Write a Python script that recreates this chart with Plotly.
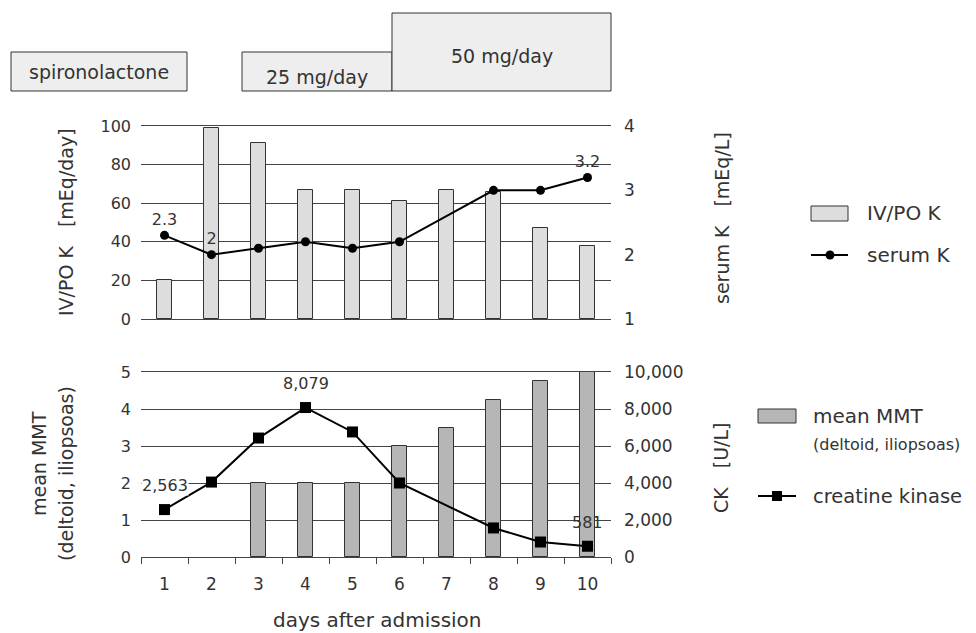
import plotly.graph_objects as go

# ---------------- data ----------------
days = ["1", "2", "3", "4", "5", "6", "7", "8", "9", "10"]
ivpo_k = [20, 99, 91, 67, 67, 61, 67, 66, 47, 38]              # mEq/day
serum_k = [2.3, 2.0, 2.1, 2.2, 2.1, 2.2, None, 3.0, 3.0, 3.2]  # mEq/L
serum_k_labels = ["2.3", "2", "", "", "", "", "", "", "", "3.2"]
mean_mmt = [None, None, 2, 2, 2, 3, 3.5, 4.25, 4.75, 5]
ck = [2563, 4050, 6430, 8079, 6760, 4000, None, 1570, 810, 581]  # U/L
ck_labels = ["2,563", "", "", "8,079", "", "", "", "", "", "581"]
ck_label_bg = ["white", None, None, None, None, None, None, None, None, None]

# page has an 8px body margin: figure starts at (8, 8) and runs to the window edge
OFF = 8
W, H = 976 - OFF, 633 - OFF
FONT = "DejaVu Sans, sans-serif"
DARK = "#333333"
GRID = "#444444"


def px(x):
    return (x - OFF) / W


def py(y):
    return 1 - (y - OFF) / H


def f(size):
    return dict(family=FONT, size=size, color=DARK)


fig = go.Figure()

fig.add_trace(go.Bar(x=days, y=ivpo_k, width=0.34, name="IV/PO K",
                     marker=dict(color="#dcdddc", line=dict(color="#333333", width=1)),
                     xaxis="x", yaxis="y", showlegend=False))
fig.add_trace(go.Scatter(x=days, y=serum_k, name="serum K", mode="lines+markers+text",
                         text=serum_k_labels, textposition="top center",
                         textfont=f(16),
                         connectgaps=True,
                         line=dict(color="black", width=2),
                         marker=dict(symbol="circle", size=9, color="black"),
                         xaxis="x", yaxis="y2", showlegend=False, cliponaxis=False))
fig.add_trace(go.Bar(x=days, y=mean_mmt, width=0.34, name="mean MMT",
                     marker=dict(color="#b5b6b5", line=dict(color="#333333", width=1)),
                     xaxis="x2", yaxis="y3", showlegend=False))
fig.add_trace(go.Scatter(x=days, y=ck, name="creatine kinase", mode="lines+markers",
                         connectgaps=True,
                         line=dict(color="black", width=2),
                         marker=dict(symbol="square", size=11, color="black"),
                         xaxis="x2", yaxis="y4", showlegend=False, cliponaxis=False))

annotations = []
for i, (v, lab, bg) in enumerate(zip(ck, ck_labels, ck_label_bg)):
    if lab:
        annotations.append(dict(x=i, y=v, xref="x2", yref="y4", text=lab, showarrow=False,
                                yshift=24, bgcolor=bg, borderpad=0, font=f(16)))

xdom = [px(141), px(611)]
top_dom = [py(319), py(126)]
bot_dom = [py(557), py(372)]

common_y = dict(showgrid=True, gridcolor=GRID, gridwidth=1, zeroline=False,
                showline=False, ticks="", automargin=False)

fig.update_layout(
    width=W, height=H,
    margin=dict(l=0, r=0, t=0, b=0, autoexpand=False),
    paper_bgcolor="white", plot_bgcolor="white",
    font=dict(family=FONT, color=DARK),
    bargap=0,
    xaxis=dict(domain=xdom, anchor="y", type="category", categoryorder="array",
               categoryarray=days, range=[-0.5, 9.5], showticklabels=False, ticks="",
               showgrid=False, showline=True, linecolor=GRID, linewidth=1, mirror=True,
               automargin=False),
    yaxis=dict(domain=top_dom, anchor="x", range=[0, 100], tickvals=[0, 20, 40, 60, 80, 100],
               ticklabelstandoff=9, tickfont=f(16), **common_y),
    yaxis2=dict(domain=top_dom, anchor="x", overlaying="y", side="right", range=[1, 4],
                tickvals=[1, 2, 3, 4], ticklabelstandoff=12, tickfont=f(17),
                **{**common_y, "showgrid": False}),
    xaxis2=dict(domain=xdom, anchor="y3", type="category", categoryorder="array",
                categoryarray=days, range=[-0.5, 9.5], tickson="boundaries", ticks="outside",
                ticklen=6, tickcolor=GRID, tickwidth=1, tickfont=f(17), ticklabelstandoff=12,
                showgrid=False, showline=True, linecolor=GRID, linewidth=1, mirror=True,
                automargin=False),
    yaxis3=dict(domain=bot_dom, anchor="x2", range=[0, 5], tickvals=[0, 1, 2, 3, 4, 5],
                ticklabelstandoff=9, tickfont=f(16), **common_y),
    yaxis4=dict(domain=bot_dom, anchor="x2", overlaying="y3", side="right", range=[0, 10000],
                tickvals=[0, 2000, 4000, 6000, 8000, 10000], tickformat=",d",
                ticklabelstandoff=12, tickfont=f(17), **{**common_y, "showgrid": False}),
)


def vtext(x, y, text, size=19):
    annotations.append(dict(x=px(x), y=py(y), xref="paper", yref="paper", text=text,
                            textangle=-90, showarrow=False, xanchor="center", yanchor="middle",
                            font=f(size)))


vtext(66, 222, "IV/PO K\u2003[mEq/day]")
vtext(722, 218, "serum K\u2003[mEq/L]")
vtext(39, 463, "mean MMT")
vtext(66, 474, "(deltoid, iliopsoas)")
vtext(721, 468, "CK\u2003[U/L]")

annotations.append(dict(x=px(377), y=py(620), xref="paper", yref="paper",
                        text="days after admission", showarrow=False,
                        xanchor="center", yanchor="middle", font=f(20)))

shapes = []
boxes = [((11, 52, 187, 91), "spironolactone", 72),
         ((242, 52, 392, 91), "25 mg/day", 77),
         ((392, 13, 611, 91), "50 mg/day", 56)]
for (x0, y0, x1, y1), txt, ty in boxes:
    shapes.append(dict(type="rect", xref="paper", yref="paper", x0=px(x0), x1=px(x1),
                       y0=py(y1), y1=py(y0), fillcolor="#eeeeee",
                       line=dict(color="#333333", width=1), layer="below"))
    annotations.append(dict(x=px((x0 + x1) / 2), y=py(ty), xref="paper", yref="paper",
                            text=txt, showarrow=False, xanchor="center", yanchor="middle",
                            font=f(19)))


def legend_text(x, y, text, size=20):
    annotations.append(dict(x=px(x), y=py(y), xref="paper", yref="paper", text=text,
                            showarrow=False, xanchor="left", yanchor="middle", font=f(size)))


shapes.append(dict(type="rect", xref="paper", yref="paper", x0=px(811), x1=px(848),
                   y0=py(221), y1=py(206), fillcolor="#dcdddc",
                   line=dict(color="#333333", width=1)))
legend_text(865, 213, "IV/PO K")
shapes.append(dict(type="line", xref="paper", yref="paper", x0=px(811), x1=px(848),
                   y0=py(255), y1=py(255), line=dict(color="black", width=2)))
shapes.append(dict(type="circle", xref="paper", yref="paper", x0=px(825.5), x1=px(834.5),
                   y0=py(259.5), y1=py(250.5), fillcolor="black",
                   line=dict(color="black", width=0)))
legend_text(865, 255, "serum K")

shapes.append(dict(type="rect", xref="paper", yref="paper", x0=px(758), x1=px(796),
                   y0=py(423), y1=py(409), fillcolor="#b5b6b5",
                   line=dict(color="#333333", width=1)))
legend_text(811, 416, "mean MMT")
legend_text(811, 444, "(deltoid, iliopsoas)", size=16)
shapes.append(dict(type="line", xref="paper", yref="paper", x0=px(758), x1=px(796),
                   y0=py(496), y1=py(496), line=dict(color="black", width=2)))
shapes.append(dict(type="rect", xref="paper", yref="paper", x0=px(772), x1=px(782),
                   y0=py(501), y1=py(491), fillcolor="black",
                   line=dict(color="black", width=0)))
legend_text(811, 496, "creatine kinase", size=19.5)

fig.update_layout(annotations=annotations, shapes=shapes)

fig.write_html("out.html")
